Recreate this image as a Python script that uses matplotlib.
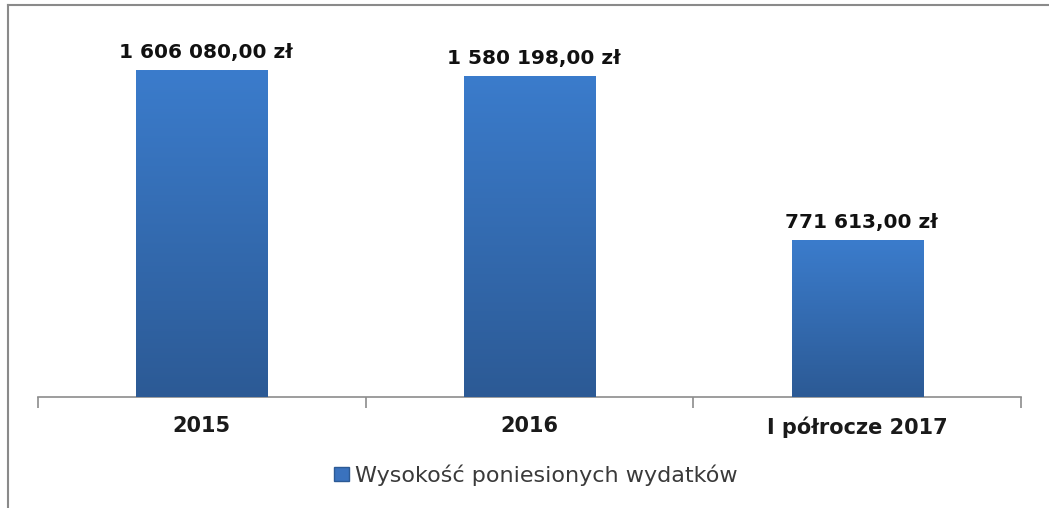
import numpy as np
import matplotlib.pyplot as plt
from matplotlib.patches import Rectangle
from matplotlib.lines import Line2D
from matplotlib.colors import LinearSegmentedColormap

categories = ['2015', '2016', 'I półrocze 2017']
values = [1606080.00, 1580198.00, 771613.00]
series_name = 'Wysokość poniesionych wydatków'

def fmt_pln(v):
    s = '{:,.2f}'.format(v)
    s = s.replace(',', ' ').replace('.', ',')
    return s + ' zł'

plt.rcParams['font.family'] = ['DejaVu Sans']

fig = plt.figure(figsize=(10.49, 5.08), dpi=100)
ax = fig.add_axes([0.0362, 0.2185, 0.9371, 0.7205])

x = np.arange(len(categories))
bars = ax.bar(x, values, width=0.4, color='#3A78C6', zorder=2)

# vertical gradient inside each bar
cmap = LinearSegmentedColormap.from_list('grad', ['#2C5A95', '#3B7CCC'])
grad = np.linspace(0, 1, 256).reshape(-1, 1)
for b in bars:
    x0, w, h = b.get_x(), b.get_width(), b.get_height()
    im = ax.imshow(grad, cmap=cmap, origin='lower', aspect='auto',
                   extent=(x0, x0 + w, 0, h), zorder=3)
    im.set_clip_path(b)
    ax.text(x0 + w / 2 + 0.012, h + 40000, fmt_pln(h), ha='center', va='bottom',
            fontsize=14.5, fontweight='bold', color='#111111')

ax.set_xlim(-0.5, 2.5)
ax.set_ylim(0, 1800000)
ax.set_yticks([])
for s in ['top', 'right', 'left']:
    ax.spines[s].set_visible(False)
ax.spines['bottom'].set_color('#8c8c8c')
ax.spines['bottom'].set_linewidth(1.2)

ax.set_xticks([-0.5, 0.5, 1.5, 2.5])
ax.set_xticklabels([])
ax.tick_params(axis='x', which='major', length=8, color='#8c8c8c', width=1.2, direction='out')
ax.set_xticks(x, minor=True)
ax.set_xticklabels(categories, minor=True, fontsize=15, fontweight='bold', color='#1a1a1a')
ax.tick_params(axis='x', which='minor', length=0, pad=14)

handle = Rectangle((0, 0), 1, 1, facecolor='#3A72BE', edgecolor='#2C5A95')
fig.legend([handle], [series_name], loc='center', bbox_to_anchor=(0.511, 0.065),
           frameon=False, fontsize=16, handlelength=0.65, handleheight=0.65,
           handletextpad=0.3, labelcolor='#3a3a3a')

# outer border (top and left only)
fig.add_artist(Line2D([8 / 1049, 1], [1 - 5 / 508, 1 - 5 / 508], transform=fig.transFigure,
                      color='#8a8a8a', linewidth=1.5))
fig.add_artist(Line2D([8 / 1049, 8 / 1049], [0, 1 - 5 / 508], transform=fig.transFigure,
                      color='#8a8a8a', linewidth=1.5))

fig.savefig('out.png', dpi=100, facecolor='white')
